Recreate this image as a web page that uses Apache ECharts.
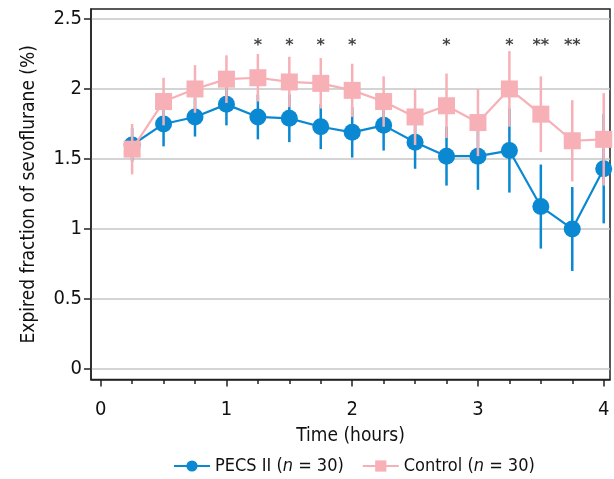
<!DOCTYPE html>
<html>
<head>
<meta charset="utf-8">
<script src="https://cdn.jsdelivr.net/npm/echarts@6/dist/echarts.min.js"></script>
<style>
  html, body { margin: 0; padding: 0; background: #fff; }
  #chart { width: 614px; height: 479px; }
</style>
</head>
<body>
<div id="chart"></div>
<script>
// time points (hours)
const times = [0.25, 0.5, 0.75, 1, 1.25, 1.5, 1.75, 2, 2.25, 2.5, 2.75, 3, 3.25, 3.5, 3.75, 4];

// PECS II group, mean and SD
const pecs = [1.60, 1.75, 1.80, 1.89, 1.80, 1.79, 1.73, 1.69, 1.74, 1.62, 1.52, 1.52, 1.56, 1.16, 1.00, 1.43];
const pecsSd = [0.12, 0.16, 0.14, 0.15, 0.16, 0.17, 0.16, 0.18, 0.18, 0.19, 0.21, 0.24, 0.30, 0.30, 0.30, 0.39];

// Control group, mean and SD
const ctrl = [1.57, 1.91, 2.00, 2.07, 2.08, 2.05, 2.04, 1.99, 1.91, 1.80, 1.88, 1.76, 2.00, 1.82, 1.63, 1.64];
const ctrlSd = [0.18, 0.17, 0.17, 0.17, 0.17, 0.18, 0.18, 0.19, 0.18, 0.20, 0.23, 0.24, 0.27, 0.27, 0.29, 0.33];

// significance marks
const sigTimes = [1.25, 1.5, 1.75, 2, 2.75, 3.25, 3.5, 3.75];
const sigMarks = ['*', '*', '*', '*', '*', '*', '**', '**'];
const sigLevel = 2.31;

// ticks
const yTicks = [0, 0.5, 1, 1.5, 2, 2.5];
const xTicks = [0, 1, 2, 3, 4];
const xMinorTicks = [0, 0.25, 0.5, 0.75, 1, 1.25, 1.5, 1.75, 2, 2.25, 2.5, 2.75, 3, 3.25, 3.5, 3.75, 4];

const BLUE = '#0a88d2';
const PINK = '#f6b0b6';
const FONT = '"DejaVu Sans Condensed", "Liberation Sans Narrow", sans-serif';

const chart = echarts.init(document.getElementById('chart'), null, { renderer: 'canvas' });

// error bar drawer
const errRender = (params, api) => {
  const lo = api.coord([api.value(0), api.value(1)]);
  const hi = api.coord([api.value(0), api.value(2)]);
  return {
    type: 'line',
    shape: { x1: lo[0], y1: lo[1], x2: hi[0], y2: hi[1] },
    style: { stroke: api.visual('color'), lineWidth: 2.5, opacity: api.visual('opacity') }
  };
};

const pecsErr = times.map((t, i) => [t, pecs[i] - pecsSd[i], pecs[i] + pecsSd[i]]);
const ctrlErr = times.map((t, i) => [t, ctrl[i] - ctrlSd[i], ctrl[i] + ctrlSd[i]]);

const option = {
  animation: false,
  textStyle: { fontFamily: FONT },
  grid: {
    left: 91, top: 9, right: 4, bottom: 99.5,
    show: true, borderColor: '#222', borderWidth: 1.5
  },
  legend: {
    top: 452,
    left: 168,
    itemWidth: 36,
    itemHeight: 14,
    itemGap: 18,
    data: ['PECS II', 'Control'],
    textStyle: {
      fontFamily: FONT, fontSize: 18, color: '#111',
      rich: { i: { fontFamily: FONT, fontSize: 18, fontStyle: 'italic', color: '#111' } }
    },
    formatter: name => name + ' ({i|n} = 30)'
  },
  xAxis: [
    {
      type: 'value', min: -0.077, max: 4.05,
      axisLine: { show: true, onZero: false, lineStyle: { color: '#222', width: 1.5 } },
      axisTick: { show: true, length: 4.5, customValues: xMinorTicks, lineStyle: { color: '#222', width: 1.5 } },
      axisLabel: { show: false },
      splitLine: { show: false }
    },
    {
      type: 'value', min: -0.077, max: 4.05, position: 'bottom',
      name: 'Time (hours)', nameLocation: 'middle', nameGap: 47,
      nameTextStyle: { fontFamily: FONT, fontSize: 19, color: '#111' },
      axisLine: { show: false, onZero: false },
      axisTick: { show: true, length: 7, customValues: xTicks, lineStyle: { color: '#222', width: 1.5 } },
      axisLabel: { customValues: xTicks, margin: 20, fontFamily: FONT, fontSize: 20, color: '#111' },
      splitLine: { show: false }
    }
  ],
  yAxis: {
    type: 'value', min: -0.075, max: 2.571,
    name: 'Expired fraction of sevoflurane (%)', nameLocation: 'middle', nameGap: 52,
    nameTextStyle: { fontFamily: FONT, fontSize: 19, color: '#111' },
    axisLine: { show: true, onZero: false, lineStyle: { color: '#222', width: 1.5 } },
    axisTick: { show: true, length: 7, customValues: yTicks, lineStyle: { color: '#222', width: 1.5 } },
    axisLabel: { customValues: yTicks, margin: 9, fontFamily: FONT, fontSize: 20, color: '#111' },
    splitLine: { show: true, lineStyle: { color: '#c6c6c6', width: 1.5 } }
  },
  series: [
    {
      type: 'custom', name: 'PECS II err', renderItem: errRender,
      itemStyle: { color: BLUE }, data: pecsErr, z: 1, silent: true
    },
    {
      type: 'line', name: 'PECS II',
      data: times.map((t, i) => [t, pecs[i]]),
      symbol: 'circle', symbolSize: 17,
      lineStyle: { color: BLUE, width: 2.2 },
      itemStyle: { color: BLUE },
      z: 2
    },
    {
      type: 'custom', name: 'Control err', renderItem: errRender,
      itemStyle: { color: PINK, opacity: 0.85 }, data: ctrlErr, z: 3, silent: true
    },
    {
      type: 'line', name: 'Control',
      data: times.map((t, i) => [t, ctrl[i]]),
      symbol: 'rect', symbolSize: 17,
      lineStyle: { color: PINK, width: 2.2 },
      itemStyle: { color: PINK },
      z: 4
    },
    {
      type: 'scatter', name: 'sig',
      data: sigTimes.map((t, i) => [t, sigLevel, sigMarks[i]]),
      symbolSize: 0,
      label: {
        show: true, position: 'inside', formatter: p => p.value[2],
        fontFamily: 'DejaVu Sans', fontSize: 16, fontWeight: 'bold', color: '#111'
      },
      silent: true, z: 5
    }
  ]
};

chart.setOption(option);
</script>
</body>
</html>
